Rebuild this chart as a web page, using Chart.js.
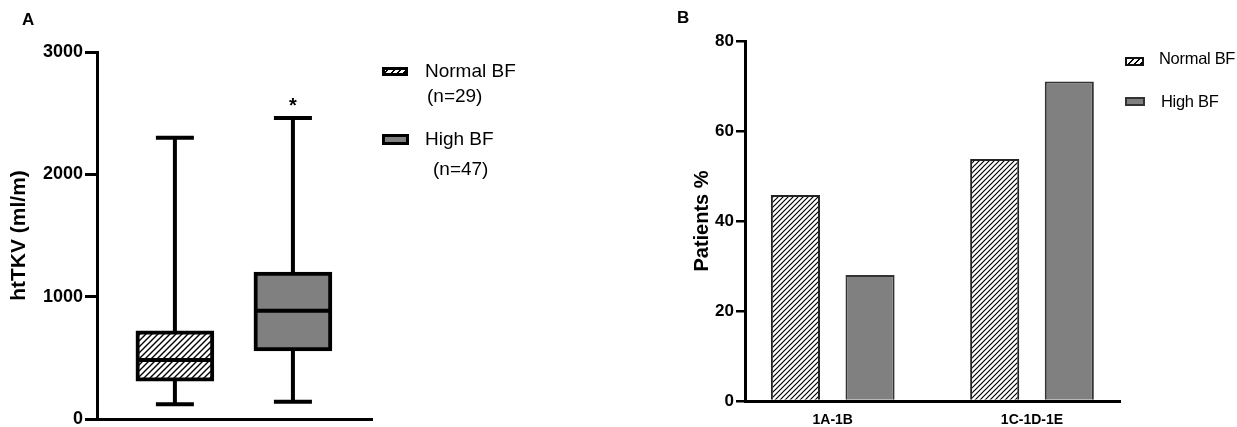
<!DOCTYPE html>
<html>
<head>
<meta charset="utf-8">
<script src="https://cdn.jsdelivr.net/npm/chart.js@4.4.0/dist/chart.umd.min.js"></script>
<style>
  body { margin: 0; background: #fff; width: 1237px; height: 427px; position: relative; overflow: hidden;
         font-family: 'Liberation Sans', Arial, sans-serif; }
  .abs { position: absolute; white-space: nowrap; line-height: 1; color: #000; }
  .panel { position: absolute; top: 0; height: 427px; }
  .hatch { background: repeating-linear-gradient(-45deg, #000 0 1.5px, #fff 1.5px 4.5px); }
</style>
</head>
<body>
<div class="panel" style="left:0;width:620px"><canvas id="boxChart" width="620" height="427"></canvas></div>
<div class="panel" style="left:620px;width:617px"><canvas id="barChart" width="617" height="427"></canvas></div>

<div class="abs" style="left:22px;top:11px;font-weight:bold;font-size:17px">A</div>
<div class="abs" style="left:677px;top:9px;font-weight:bold;font-size:17px">B</div>

<!-- legend A -->
<div class="abs hatch" style="left:382px;top:67px;width:20px;height:3px;border:3px solid #000"></div>
<div class="abs" style="left:425px;top:61px;font-size:19px">Normal BF</div>
<div class="abs" style="left:427px;top:86px;font-size:19px">(n=29)</div>
<div class="abs" style="left:382px;top:134px;width:21px;height:5px;border:3px solid #000;background:#808080"></div>
<div class="abs" style="left:425px;top:129px;font-size:19px">High BF</div>
<div class="abs" style="left:433px;top:159px;font-size:19px">(n=47)</div>

<!-- legend B -->
<div class="abs hatch" style="left:1125px;top:57px;width:15px;height:5px;border:2px solid #111"></div>
<div class="abs" style="left:1159px;top:50px;font-size:16.5px;letter-spacing:-0.3px">Normal BF</div>
<div class="abs" style="left:1125px;top:97px;width:16px;height:5px;border:2px solid #333;background:#808080"></div>
<div class="abs" style="left:1161px;top:93px;font-size:16.5px;letter-spacing:-0.3px">High BF</div>

<script>
// panel A: htTKV box plots
const groups = ['Normal BF', 'High BF'];
const groupX = [1, 2];
const boxMin = [120, 140];
const boxQ1 = [310, 556];
const boxMedian = [482, 885];
const boxQ3 = [720, 1200];
const boxMax = [2300, 2460];
const boxMarks = ['', '*'];

// panel B: patients % per class
const categories = ['1A-1B', '1C-1D-1E'];
const catX = [1, 2];
const normalPct = [45.8, 53.8];
const highPct = [28, 71];

Chart.defaults.font.family = "'Liberation Sans', Arial, sans-serif";
Chart.defaults.color = '#000';

function hatch(step, lw) {
  const c = document.createElement('canvas');
  c.width = step; c.height = step;
  const g = c.getContext('2d');
  g.fillStyle = '#fff';
  g.fillRect(0, 0, step, step);
  g.strokeStyle = '#000';
  g.lineWidth = lw;
  g.beginPath();
  g.moveTo(-1, step + 1); g.lineTo(step + 1, -1);
  g.moveTo(-1, 1); g.lineTo(1, -1);
  g.moveTo(step - 1, step + 1); g.lineTo(step + 1, step - 1);
  g.stroke();
  return g.createPattern(c, 'repeat');
}

const BOX_W = 78;

const whiskers = {
  id: 'whiskers',
  afterDatasetsDraw(chart) {
    const { ctx, scales: { x, y } } = chart;
    ctx.save();
    ctx.strokeStyle = '#000';
    ctx.lineWidth = 4;
    groupX.forEach((v, i) => {
      const cx = x.getPixelForValue(v);
      const half = BOX_W / 2 - 2;
      const cap = 19;
      ctx.beginPath();
      ctx.moveTo(cx, y.getPixelForValue(boxMax[i]));
      ctx.lineTo(cx, y.getPixelForValue(boxQ3[i]));
      ctx.moveTo(cx, y.getPixelForValue(boxQ1[i]));
      ctx.lineTo(cx, y.getPixelForValue(boxMin[i]));
      ctx.moveTo(cx - cap, y.getPixelForValue(boxMax[i]));
      ctx.lineTo(cx + cap, y.getPixelForValue(boxMax[i]));
      ctx.moveTo(cx - cap, y.getPixelForValue(boxMin[i]));
      ctx.lineTo(cx + cap, y.getPixelForValue(boxMin[i]));
      ctx.moveTo(cx - half, y.getPixelForValue(boxMedian[i]));
      ctx.lineTo(cx + half, y.getPixelForValue(boxMedian[i]));
      ctx.stroke();
      if (boxMarks[i]) {
        ctx.fillStyle = '#000';
        ctx.font = "bold 20px 'Liberation Sans', Arial, sans-serif";
        ctx.textAlign = 'center';
        ctx.textBaseline = 'middle';
        ctx.fillText(boxMarks[i], cx, y.getPixelForValue(boxMax[i]) - 12);
      }
    });
    ctx.restore();
  }
};

new Chart(document.getElementById('boxChart'), {
  type: 'bar',
  data: {
    datasets: [{
      label: 'htTKV',
      data: groupX.map((v, i) => ({ x: v, y: [boxQ1[i], boxQ3[i]] })),
      backgroundColor: [hatch(6, 1.4), '#808080'],
      borderColor: '#000',
      borderWidth: 4,
      borderSkipped: false,
      barThickness: BOX_W
    }]
  },
  options: {
    responsive: false,
    animation: false,
    layout: { padding: { left: 0, top: 52, right: 248, bottom: 8 } },
    plugins: { legend: { display: false }, tooltip: { enabled: false } },
    scales: {
      x: {
        type: 'linear',
        offset: false,
        min: 0.34,
        max: 2.67,
        ticks: { display: false },
        grid: { display: false },
        border: { display: true, color: '#000', width: 3 },
        afterFit: (s) => { s.height = 0; }
      },
      y: {
        min: 0,
        max: 3000,
        ticks: { stepSize: 1000, padding: 2, font: { size: 18, weight: 'bold' }, color: '#000', callback: (v) => String(v) },
        grid: { drawOnChartArea: false, drawTicks: true, tickLength: 12, color: '#000', lineWidth: 3 },
        border: { display: true, color: '#000', width: 3 },
        title: { display: true, text: 'htTKV (ml/m)', font: { size: 21, weight: 'bold' }, color: '#000', padding: { top: 7, bottom: 0 } },
        afterFit: (s) => { s.width = 97; s.paddingTop = 0; s.paddingBottom = 0; }
      }
    }
  },
  plugins: [whiskers]
});

const narrow = "'Liberation Sans Narrow', 'Liberation Sans', Arial, sans-serif";

new Chart(document.getElementById('barChart'), {
  type: 'bar',
  data: {
    datasets: [{
      label: 'Normal BF',
      data: catX.map((v, i) => ({ x: v, y: normalPct[i] })),
      backgroundColor: hatch(5, 1.2),
      borderColor: '#222',
      borderWidth: 2
    }, {
      label: 'High BF',
      data: catX.map((v, i) => ({ x: v, y: highPct[i] })),
      backgroundColor: '#808080',
      borderColor: '#333',
      borderWidth: 2
    }]
  },
  options: {
    responsive: false,
    animation: false,
    layout: { padding: { left: 0, top: 41, right: 117, bottom: 0 } },
    plugins: { legend: { display: false }, tooltip: { enabled: false } },
    datasets: { bar: { categoryPercentage: 0.749, barPercentage: 0.658 } },
    scales: {
      x: {
        type: 'linear',
        offset: false,
        min: 0.5596,
        max: 2.4417,
        afterBuildTicks: (s) => { s.ticks = catX.map(v => ({ value: v })); },
        ticks: {
          padding: 11,
          font: { size: 14, weight: 'bold' },
          color: '#000',
          callback: (v) => categories[catX.indexOf(v)]
        },
        grid: { display: false, drawTicks: false },
        border: { display: true, color: '#000', width: 3 },
        afterFit: (s) => { s.height = 26; }
      },
      y: {
        min: 0,
        max: 80,
        ticks: { stepSize: 20, padding: 2, font: { family: narrow, size: 17, weight: 'bold' }, color: '#000' },
        grid: { drawOnChartArea: false, drawTicks: true, tickLength: 9, color: '#000', lineWidth: 2.5 },
        border: { display: true, color: '#000', width: 3 },
        title: { display: true, text: 'Patients %', font: { size: 20, weight: 'bold' }, color: '#000', padding: { top: 70, bottom: 0 } },
        afterFit: (s) => { s.width = 125; s.paddingTop = 0; s.paddingBottom = 0; }
      }
    }
  }
});
</script>
</body>
</html>
